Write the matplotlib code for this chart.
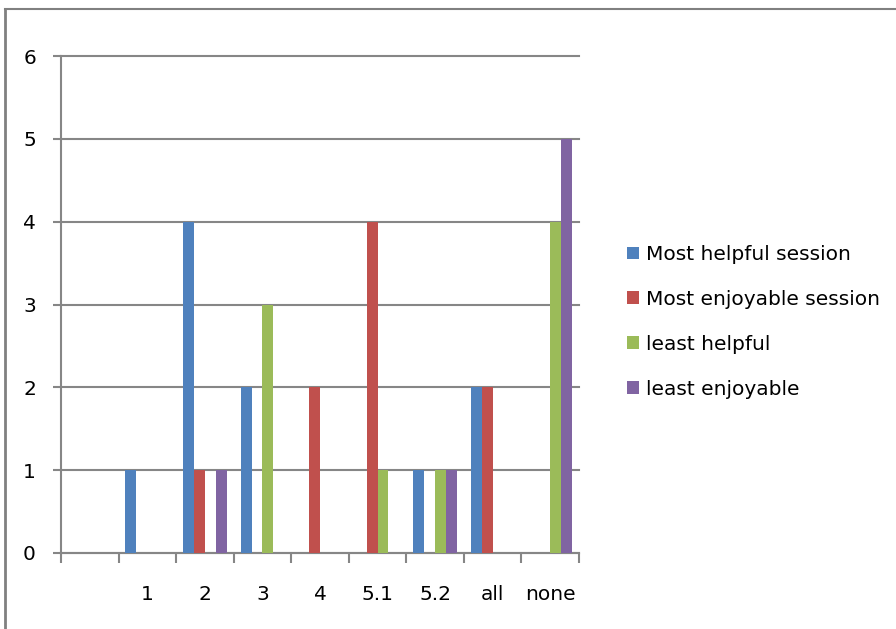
import matplotlib
matplotlib.use("Agg")
import matplotlib.pyplot as plt
from matplotlib.lines import Line2D
import numpy as np

categories = ["", "1", "2", "3", "4", "5.1", "5.2", "all", "none"]
most_helpful = [0, 1, 4, 2, 0, 0, 1, 2, 0]
most_enjoyable = [0, 0, 1, 0, 2, 4, 0, 2, 0]
least_helpful = [0, 0, 0, 3, 0, 1, 1, 0, 4]
least_enjoyable = [0, 0, 1, 0, 0, 0, 1, 0, 5]
series_names = ["Most helpful session", "Most enjoyable session", "least helpful", "least enjoyable"]
colors = ["#4F81BD", "#C0504D", "#9BBB59", "#8064A2"]
yticks = [0, 1, 2, 3, 4, 5, 6]

plt.rcParams['font.family'] = ['DejaVu Sans']
fig = plt.figure(figsize=(8.96, 6.29), dpi=100)
ax = fig.add_axes([61/896, 1-553/629, (579-61)/896, (553-56)/629])

x = np.arange(len(categories))
bw = 0.19
series = [most_helpful, most_enjoyable, least_helpful, least_enjoyable]
handles = []
for i, (vals, c, name) in enumerate(zip(series, colors, series_names)):
    b = ax.bar(x + (i - 1.5) * bw, vals, width=bw, color=c, label=name, zorder=3, linewidth=0)
    handles.append(b)

gcol = "#868686"
ax.set_xlim(-0.5, len(categories) - 0.5)
ax.set_ylim(0, 6)
ax.set_yticks(yticks)
ax.yaxis.grid(True, color=gcol, linewidth=1.5, zorder=0)
for gl in ax.get_ygridlines():
    gl.set_clip_on(False)
ax.set_axisbelow(True)
for s in ["top", "right"]:
    ax.spines[s].set_visible(False)
for s in ["left", "bottom"]:
    ax.spines[s].set_color(gcol)
    ax.spines[s].set_linewidth(1.5)
ax.tick_params(axis="y", length=6, width=1.5, color=gcol, pad=12, labelsize=14.5)
ax.set_xticks(x)
ax.set_xticklabels(categories)
ax.tick_params(axis="x", which="major", length=0, pad=23, labelsize=14.5)
ax.set_xticks(np.arange(-0.5, len(categories), 1.0), minor=True)
ax.tick_params(axis="x", which="minor", length=7, width=1.5, color=gcol, direction="out")

fig.legend(handles=handles, labels=series_names, loc="upper left",
           bbox_to_anchor=(627/896, 1-245/629), frameon=False, fontsize=14.5,
           handlelength=0.6, handleheight=0.6, handletextpad=0.35, labelspacing=1.29,
           borderpad=0, borderaxespad=0)

fig.add_artist(Line2D([5/896, 1], [1-9/629, 1-9/629], color="#808080", linewidth=1.5, transform=fig.transFigure))
fig.add_artist(Line2D([5/896, 5/896], [0, 1-9/629], color="#808080", linewidth=2, transform=fig.transFigure))

fig.savefig("out.png", dpi=100)
